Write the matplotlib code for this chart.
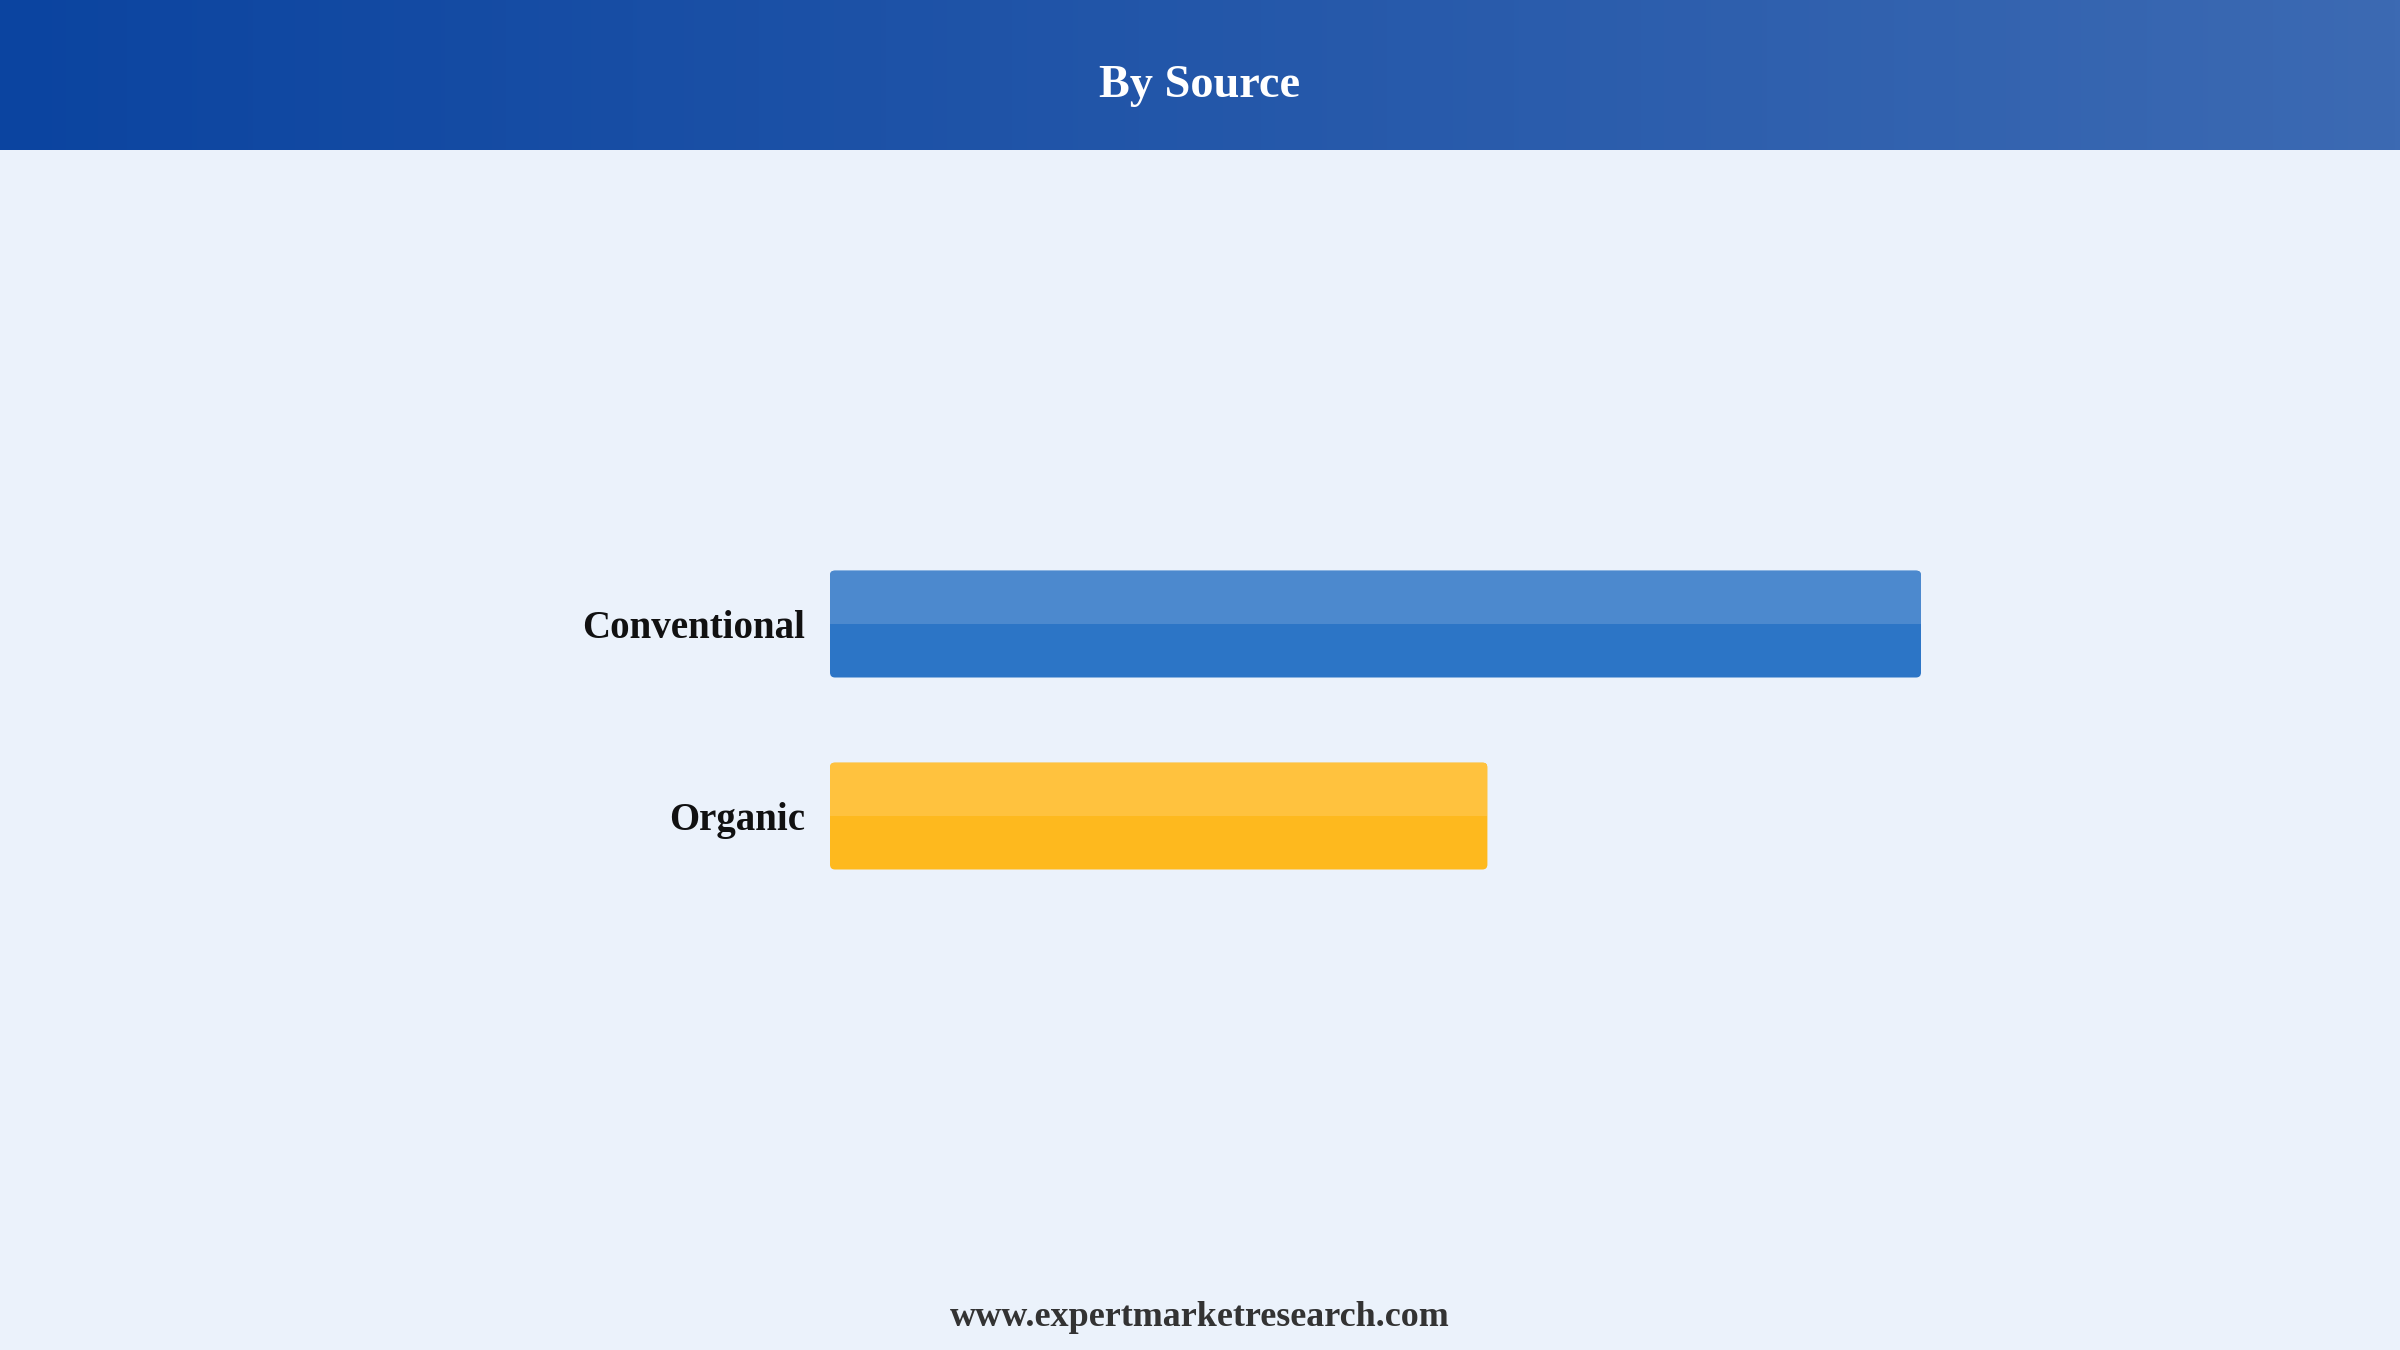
import numpy as np
import matplotlib
matplotlib.use("Agg")
import matplotlib.pyplot as plt
from matplotlib.patches import FancyBboxPatch

# ---- data ----
categories = ["Conventional", "Organic"]
values = [62.4, 37.6]
dark_colors = ["#2C75C6", "#FEB91E"]
light_colors = ["#4C89CE", "#FFC23E"]
title = "By Source"
footer = "www.expertmarketresearch.com"

W, H, DPI = 2400, 1350, 100
BG = "#EBF2FB"
FONT = "Liberation Serif"

fig = plt.figure(figsize=(W / DPI, H / DPI), dpi=DPI, facecolor=BG)

# ---- header gradient ----
hdr_h = 150
hax = fig.add_axes([0, 1 - hdr_h / H, 1, hdr_h / H])
c0 = np.array([0x0B, 0x44, 0xA0]) / 255
c1 = np.array([0x3C, 0x6A, 0xB3]) / 255
t = np.linspace(0, 1, 512)[None, :, None]
grad = c0[None, None, :] * (1 - t) + c1[None, None, :] * t
hax.imshow(grad, aspect="auto", extent=(0, 1, 0, 1))
hax.set_axis_off()
fig.text(0.5, 1 - 97 / H, title, ha="center", va="baseline", color="white",
         fontsize=33.3, fontweight="bold", family=FONT)

# ---- bar axes ----
ax_left, ax_right = 830, 2100
ax_top, ax_bot = 150, 1250
ax = fig.add_axes([ax_left / W, 1 - ax_bot / H, (ax_right - ax_left) / W, (ax_bot - ax_top) / H])
ax.set_facecolor(BG)
for s in ax.spines.values():
    s.set_visible(False)

px_per_unit_y = 192.0
bar_h = 107 / px_per_unit_y
xmax = values[0] * (ax_right - ax_left) / 1091.0
ax.set_xlim(0, xmax)
top_units = (624 - ax_top) / px_per_unit_y
span = (ax_bot - ax_top) / px_per_unit_y
ax.set_ylim(span - top_units, -top_units)

x_per_px = xmax / (ax_right - ax_left)
y_per_px = 1.0 / px_per_unit_y
r_px = 5
ypos = np.arange(len(categories))
for i, (v, dc, lc) in enumerate(zip(values, dark_colors, light_colors)):
    patch = FancyBboxPatch((0, ypos[i] - bar_h / 2), v, bar_h,
                           boxstyle=f"round,pad=0,rounding_size={r_px * x_per_px}",
                           mutation_aspect=y_per_px / x_per_px,
                           facecolor=dc, edgecolor="none", zorder=2)
    ax.add_patch(patch)
    top = ax.barh(ypos[i] - bar_h / 4, v, height=bar_h / 2, color=lc, zorder=3)
    for b in top:
        b.set_clip_path(patch)

ax.set_yticks(ypos)
ax.set_yticklabels(categories, family=FONT, fontweight="bold", fontsize=28, color="#111111")
ax.tick_params(axis="y", length=0, pad=18)
ax.set_xticks([])

fig.text(0.5, 1 - 1326 / H, footer, ha="center", va="baseline", color="#333333",
         fontsize=25.9, fontweight="bold", family=FONT)

fig.savefig("out.png", dpi=DPI, facecolor=BG)
